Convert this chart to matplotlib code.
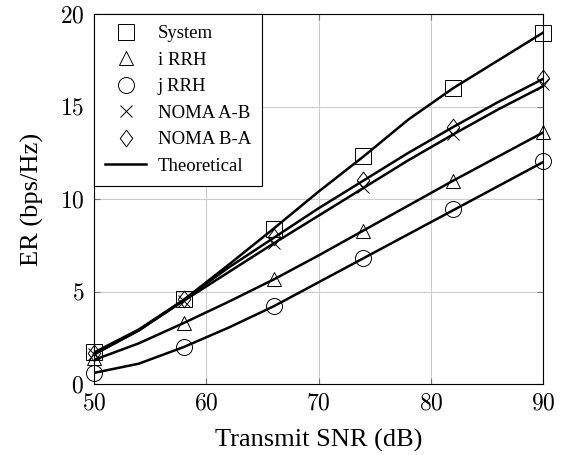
# ============================================================
# ER vs TRANSMIT SNR - SIMULATION POINTS + THEORETICAL CURVES
# ============================================================

import numpy as np
import matplotlib.pyplot as plt
from matplotlib.path import Path
from matplotlib.lines import Line2D


# ============================================================
# 1) DATA
# ============================================================

# Simulation points (markers)
snr_sim = [50, 58, 66, 74, 82, 90]

system_sim = [1.75, 4.6, 8.4, 12.35, 16.0, 19.0]
i_rrh_sim = [1.4, 3.3, 5.7, 8.3, 10.95, 13.6]
j_rrh_sim = [0.6, 2.0, 4.2, 6.8, 9.45, 12.05]
noma_ab_sim = [1.65, 4.5, 7.6, 10.65, 13.5, 16.2]
noma_ba_sim = [1.7, 4.6, 7.95, 11.05, 13.9, 16.55]

# Theoretical curves (lines)
snr_th = [50, 54, 58, 62, 66, 70, 74, 78, 82, 86, 90]

system_th = [1.7, 2.95, 4.55, 6.45, 8.4, 10.4, 12.3, 14.3, 16.0, 17.5, 19.0]
i_rrh_th = [1.3, 2.2, 3.3, 4.45, 5.65, 6.95, 8.3, 9.65, 11.0, 12.3, 13.6]
j_rrh_th = [0.6, 1.1, 2.0, 3.05, 4.2, 5.5, 6.8, 8.1, 9.4, 10.7, 12.0]
noma_ab_th = [1.6, 2.9, 4.5, 6.05, 7.6, 9.1, 10.6, 12.1, 13.5, 14.85, 16.1]
noma_ba_th = [1.6, 2.9, 4.55, 6.3, 7.9, 9.5, 11.0, 12.5, 13.9, 15.25, 16.5]

x_ticks = [50, 60, 70, 80, 90]
y_ticks = [0, 5, 10, 15, 20]


# ============================================================
# 2) STYLE
# ============================================================

plt.rcParams["font.family"] = ["Liberation Serif", "DejaVu Serif"]
plt.rcParams["mathtext.fontset"] = "cm"

# pgfplots-like narrow diamond
diamond = Path([(0, 1), (0.75, 0), (0, -1), (-0.75, 0), (0, 1)],
               [Path.MOVETO, Path.LINETO, Path.LINETO, Path.LINETO, Path.CLOSEPOLY])

series = [
    ("System", system_sim, system_th, "s", 12),
    ("i RRH", i_rrh_sim, i_rrh_th, "^", 10.5),
    ("j RRH", j_rrh_sim, j_rrh_th, "o", 11.5),
    ("NOMA A-B", noma_ab_sim, noma_ab_th, "x", 8),
    ("NOMA B-A", noma_ba_sim, noma_ba_th, diamond, 12),
]


# ============================================================
# 3) PLOT
# ============================================================

fig = plt.figure(figsize=(5.76, 4.55), dpi=100)
ax = fig.add_axes([0.163, 0.156, 0.78, 0.813])

for name, sim, th, marker, ms in series:
    ax.plot(snr_th, th, color="black", linewidth=1.8, zorder=3)

for name, sim, th, marker, ms in series:
    ax.plot(snr_sim, sim, linestyle="none", marker=marker, markersize=ms,
            markerfacecolor="none", markeredgecolor="black",
            markeredgewidth=0.7, clip_on=False, zorder=4, label=name)

ax.set_xlim(50, 90)
ax.set_ylim(0, 20)

ax.set_xticks(x_ticks)
ax.set_yticks(y_ticks)
ax.set_xticklabels([f"${v}$" for v in x_ticks], fontsize=17)
ax.set_yticklabels([f"${v}$" for v in y_ticks], fontsize=17)

ax.tick_params(direction="in", top=True, right=True, length=4,
               width=0.8, color="0.45", pad=7)

ax.grid(True, color="#cccccc", linewidth=0.8)
ax.set_axisbelow(True)

for sp in ax.spines.values():
    sp.set_linewidth(0.8)

ax.set_xlabel("Transmit SNR (dB)", fontsize=19, labelpad=10)
ax.set_ylabel("ER (bps/Hz)", fontsize=19, labelpad=11)

handles, labels = ax.get_legend_handles_labels()
handles.append(Line2D([], [], color="black", linewidth=1.8))
labels.append("Theoretical")

leg = ax.legend(handles, labels, loc="upper left", bbox_to_anchor=(0, 1),
                fontsize=13.5, frameon=True, fancybox=False, edgecolor="black",
                framealpha=1, borderaxespad=0, handlelength=2.2,
                labelspacing=0.5, borderpad=0.6, handletextpad=0.6)
leg.get_frame().set_linewidth(0.8)

fig.savefig("out.png", dpi=100)
